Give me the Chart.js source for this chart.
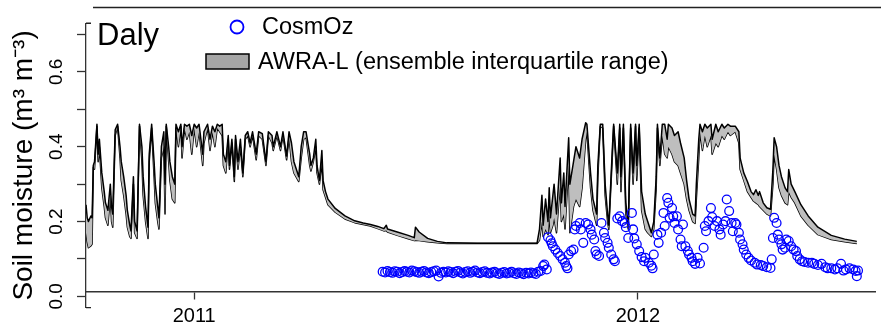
<!DOCTYPE html>
<html>
<head>
<meta charset="utf-8">
<script src="https://cdn.jsdelivr.net/npm/chart.js@4.4.1/dist/chart.umd.min.js"></script>
<style>
  html, body { margin: 0; padding: 0; background: #fff; }
  #chart { display: block; }
</style>
</head>
<body>
<canvas id="chart" width="881" height="326"></canvas>
<script>
// x values are days since 2011-01-01
const siteName = "Daly";
const yearTicks = [0, 365];
const yearLabels = ["2011", "2012"];

// AWRA-L ensemble interquartile range
const bandDays = [
  -89,-88,-87,-85,-84,-83,-82,-80,-79,-78,-76,-74,-73,-71,-69,-68,-67,-65,-63,-61,
  -60,-58,-56,-55,-53,-52,-50,-49,-47,-45,-43,-42,-40,-38,-37,-35,-33,-32,-30,-29,
  -27,-25,-24,-23,-21,-20,-18,-16,-15,-13,-11,-10,-8,-6,-4,-2,0,2,4,7,
  8,11,13,15,17,19,21,23,24,26,28,29,31,33,34,36,38,40,42,44,
  46,48,51,53,56,59,61,64,65,68,71,73,76,78,80,82,86,88,90,92,
  95,96,98,100,101,103,105,106,108,110,116,124,132,139,145,151,156,158,159,167,
  176,181,182,185,192,200,208,233,265,282,284,286,287,289,291,292,293,295,296,298,
  301,302,304,305,308,309,312,314,317,319,322,323,326,328,331,332,334,336,338,340,
  341,344,345,348,350,351,353,355,357,359,361,363,364,366,368,371,373,376,378,380,
  381,383,385,387,389,390,393,395,398,400,403,405,407,410,412,413,415,416,418,420,
  422,425,426,429,431,434,436,439,441,445,448,449,452,455,458,460,462,464,465,468,
  471,474,476,477,479,481,483,486,488,489,491,494,499,505,513,524,535,545
];
const bandUpper = [
  0.245,0.21,0.20,0.215,0.21,0.35,0.36,0.46,0.38,0.42,0.33,0.28,0.25,0.23,0.30,0.24,0.22,0.445,0.46,0.40,
  0.36,0.32,0.27,0.23,0.19,0.175,0.32,0.20,0.175,0.46,0.40,0.32,0.24,0.185,0.38,0.46,0.36,0.30,0.24,0.21,
  0.40,0.44,0.30,0.46,0.40,0.36,0.32,0.30,0.46,0.44,0.46,0.40,0.46,0.455,0.46,0.43,0.46,0.45,0.46,0.38,
  0.44,0.46,0.42,0.455,0.44,0.46,0.455,0.46,0.38,0.36,0.43,0.35,0.42,0.32,0.43,0.36,0.42,0.33,0.43,0.44,
  0.41,0.44,0.38,0.44,0.435,0.36,0.44,0.43,0.40,0.44,0.40,0.44,0.375,0.44,0.41,0.36,0.32,0.40,0.44,0.44,
  0.38,0.35,0.37,0.42,0.35,0.31,0.39,0.31,0.28,0.26,0.235,0.215,0.202,0.196,0.192,0.187,0.181,0.19,0.18,0.172,
  0.163,0.157,0.185,0.172,0.155,0.147,0.143,0.142,0.142,0.142,0.18,0.27,0.19,0.26,0.20,0.29,0.21,0.27,0.30,0.22,
  0.37,0.25,0.33,0.24,0.424,0.30,0.36,0.40,0.37,0.42,0.464,0.46,0.33,0.26,0.22,0.35,0.46,0.46,0.30,0.22,
  0.19,0.40,0.46,0.33,0.46,0.32,0.46,0.25,0.19,0.46,0.33,0.46,0.35,0.46,0.28,0.22,0.20,0.17,0.20,0.32,
  0.46,0.37,0.46,0.46,0.42,0.46,0.45,0.43,0.44,0.41,0.37,0.31,0.26,0.22,0.215,0.30,0.42,0.46,0.44,0.46,
  0.45,0.46,0.42,0.46,0.44,0.46,0.45,0.46,0.455,0.455,0.44,0.37,0.33,0.307,0.28,0.272,0.285,0.27,0.28,0.25,
  0.237,0.233,0.34,0.424,0.40,0.35,0.32,0.29,0.28,0.339,0.30,0.28,0.245,0.215,0.185,0.163,0.153,0.147
];
const bandLower = [
  0.17,0.145,0.13,0.135,0.14,0.345,0.34,0.455,0.36,0.40,0.29,0.24,0.21,0.19,0.27,0.20,0.185,0.43,0.455,0.37,
  0.31,0.27,0.22,0.185,0.16,0.155,0.30,0.17,0.155,0.455,0.36,0.27,0.20,0.155,0.36,0.45,0.32,0.25,0.20,0.18,
  0.37,0.40,0.22,0.455,0.36,0.31,0.26,0.25,0.45,0.40,0.455,0.37,0.45,0.42,0.44,0.38,0.45,0.40,0.44,0.35,
  0.41,0.45,0.39,0.44,0.40,0.45,0.44,0.43,0.35,0.33,0.42,0.34,0.41,0.307,0.42,0.34,0.40,0.32,0.42,0.43,
  0.40,0.43,0.365,0.43,0.42,0.35,0.43,0.41,0.39,0.43,0.39,0.43,0.365,0.425,0.36,0.33,0.307,0.37,0.42,0.425,
  0.35,0.335,0.36,0.40,0.33,0.30,0.36,0.285,0.265,0.245,0.225,0.207,0.197,0.192,0.188,0.181,0.175,0.176,0.172,0.163,
  0.154,0.149,0.15,0.149,0.146,0.143,0.141,0.141,0.141,0.141,0.15,0.20,0.16,0.18,0.165,0.22,0.17,0.19,0.21,0.17,
  0.30,0.20,0.22,0.18,0.35,0.17,0.24,0.26,0.24,0.29,0.42,0.44,0.29,0.23,0.19,0.32,0.455,0.45,0.27,0.20,
  0.179,0.38,0.455,0.30,0.45,0.28,0.45,0.22,0.18,0.45,0.30,0.455,0.31,0.45,0.23,0.18,0.17,0.16,0.18,0.29,
  0.45,0.35,0.43,0.38,0.37,0.40,0.38,0.36,0.35,0.33,0.30,0.26,0.23,0.20,0.195,0.26,0.37,0.44,0.39,0.43,
  0.40,0.43,0.38,0.41,0.40,0.43,0.42,0.44,0.43,0.44,0.41,0.34,0.31,0.28,0.265,0.255,0.25,0.245,0.24,0.23,
  0.22,0.215,0.30,0.379,0.34,0.29,0.27,0.25,0.245,0.28,0.265,0.25,0.215,0.19,0.165,0.152,0.146,0.141
];

// CosmOz probe
const cosmDays = [
  155,157,159,161,163,165,167,169,171,173,175,177,179,181,183,185,187,189,191,193,
  195,197,199,201,203,205,207,209,211,213,215,217,219,221,223,225,227,229,231,233,
  235,237,239,241,243,245,247,249,251,253,255,257,259,261,263,265,267,269,271,273,
  275,277,279,281,283,285,287,288,290,291,293,294,295,297,299,301,303,305,306,307,
  308,310,312,313,314,317,318,320,322,324,326,327,329,330,331,333,335,337,338,340,
  341,343,345,346,348,350,352,354,355,357,360,361,362,364,366,368,370,371,374,376,
  377,378,381,382,384,386,387,389,390,391,393,394,395,397,398,400,401,402,404,406,
  407,409,410,412,414,416,419,420,421,423,425,426,428,430,432,433,435,437,438,440,
  442,443,445,446,448,449,451,452,454,456,458,461,463,466,468,471,474,475,476,477,
  479,480,481,483,484,486,487,489,491,493,495,496,498,500,502,505,508,510,513,516,
  519,521,524,527,529,532,534,536,539,542,544,545,546
];
const cosmVals = [
  0.066,0.064,0.068,0.065,0.063,0.067,0.066,0.062,0.065,0.068,0.066,0.064,0.069,0.067,0.065,0.063,0.066,0.068,0.064,0.062,
  0.065,0.067,0.069,0.053,0.063,0.066,0.064,0.067,0.065,0.062,0.066,0.068,0.064,0.061,0.065,0.067,0.063,0.066,0.069,0.064,
  0.062,0.065,0.067,0.063,0.061,0.064,0.066,0.062,0.060,0.063,0.065,0.061,0.063,0.066,0.062,0.060,0.064,0.062,0.059,0.063,
  0.061,0.064,0.062,0.060,0.066,0.068,0.081,0.085,0.072,0.158,0.150,0.142,0.134,0.125,0.116,0.108,0.099,0.090,0.081,0.075,
  0.112,0.121,0.125,0.179,0.188,0.196,0.179,0.143,0.196,0.192,0.179,0.165,0.152,0.121,0.112,0.108,0.196,0.170,0.156,0.143,
  0.130,0.112,0.099,0.094,0.208,0.214,0.201,0.196,0.185,0.156,0.223,0.179,0.155,0.139,0.121,0.105,0.094,0.103,0.090,0.082,
  0.075,0.112,0.165,0.143,0.170,0.223,0.188,0.263,0.250,0.210,0.236,0.214,0.196,0.214,0.179,0.152,0.134,0.192,0.134,0.121,
  0.112,0.103,0.094,0.087,0.103,0.088,0.130,0.188,0.174,0.201,0.236,0.212,0.188,0.201,0.179,0.165,0.192,0.201,0.259,0.228,
  0.196,0.174,0.196,0.192,0.170,0.152,0.139,0.125,0.112,0.103,0.096,0.090,0.085,0.084,0.081,0.078,0.076,0.099,0.156,0.210,
  0.196,0.165,0.152,0.139,0.125,0.130,0.152,0.148,0.134,0.125,0.121,0.108,0.099,0.094,0.092,0.090,0.090,0.087,0.084,0.087,
  0.078,0.075,0.075,0.072,0.075,0.087,0.069,0.072,0.075,0.072,0.068,0.054,0.069
];

const fontFamily = '"Liberation Sans", Arial, Helvetica, sans-serif';

function toPoints(xs, ys) {
  return xs.map(function (x, i) { return { x: x, y: ys[i] }; });
}

const decorPlugin = {
  id: 'decor',
  afterDraw: function (chart) {
    const ctx = chart.ctx;
    const area = chart.chartArea;
    const sets = chart.data.datasets;
    ctx.save();

    // top rule and small hooks at the ends of the y axis
    ctx.strokeStyle = '#222';
    ctx.lineWidth = 1.3;
    ctx.beginPath();
    ctx.moveTo(93, 7.5);
    ctx.lineTo(chart.width, 7.5);
    ctx.moveTo(area.left, area.top);
    ctx.lineTo(area.left + 5, area.top);
    ctx.moveTo(area.left, area.bottom);
    ctx.lineTo(area.left + 5, area.bottom);
    ctx.stroke();

    // site name
    ctx.fillStyle = '#000';
    ctx.textBaseline = 'alphabetic';
    ctx.textAlign = 'left';
    ctx.font = '31px ' + fontFamily;
    ctx.fillText(siteName, 97, 45);

    // legend
    ctx.font = '23.5px ' + fontFamily;
    ctx.textBaseline = 'middle';
    ctx.strokeStyle = sets[0].borderColor;
    ctx.lineWidth = 1.8;
    ctx.beginPath();
    ctx.arc(237, 27, 6.5, 0, Math.PI * 2);
    ctx.stroke();
    ctx.fillText(sets[0].label, 262, 28);

    ctx.fillStyle = '#a6a6a6';
    ctx.fillRect(206, 54, 43, 15);
    ctx.strokeStyle = '#000';
    ctx.lineWidth = 1.5;
    ctx.strokeRect(206, 54, 43, 15);
    ctx.fillStyle = '#000';
    ctx.fillText(sets[1].label, 258, 63);
    ctx.restore();
  }
};

const ctx = document.getElementById('chart').getContext('2d');
const chart = new Chart(ctx, {
  type: 'line',
  data: {
    datasets: [{
      label: 'CosmOz',
      data: toPoints(cosmDays, cosmVals),
      showLine: false,
      pointStyle: 'circle',
      pointRadius: 4.4,
      pointBorderWidth: 1.3,
      borderColor: '#0000ff',
      pointBorderColor: '#0000ff',
      pointBackgroundColor: 'rgba(0,0,0,0)',
      backgroundColor: 'rgba(0,0,0,0)'
    }, {
      label: 'AWRA-L (ensemble interquartile range)',
      data: toPoints(bandDays, bandUpper),
      borderColor: '#000',
      borderWidth: 1.5,
      borderJoinStyle: 'round',
      backgroundColor: '#bebebe',
      fill: '+1',
      pointRadius: 0,
      tension: 0
    }, {
      label: 'lower quartile',
      data: toPoints(bandDays, bandLower),
      borderColor: '#000',
      borderWidth: 1.5,
      borderJoinStyle: 'round',
      fill: false,
      pointRadius: 0,
      tension: 0
    }]
  },
  options: {
    responsive: false,
    animation: false,
    layout: { padding: { top: 23.25, bottom: 17.75, left: 0, right: 0 } },
    scales: {
      x: {
        type: 'linear',
        min: -89,
        max: 560.2,
        position: { y: 0.012 },
        afterBuildTicks: function (scale) {
          scale.ticks = yearTicks.map(function (v) { return { value: v }; });
        },
        ticks: {
          autoSkip: false,
          maxRotation: 0,
          padding: 6,
          color: '#000',
          font: { family: fontFamily, size: 20 },
          callback: function (value) {
            const i = yearTicks.indexOf(value);
            return i >= 0 ? yearLabels[i] : '';
          }
        },
        grid: { drawOnChartArea: false, drawTicks: true, tickLength: 7, tickColor: '#333', tickWidth: 1.3 },
        border: { display: true, color: '#333', width: 1.5 }
      },
      y: {
        min: -0.03,
        max: 0.73,
        afterFit: function (scale) { scale.width = 86; },
        ticks: {
          stepSize: 0.1,
          includeBounds: false,
          minRotation: 90,
          maxRotation: 90,
          crossAlign: 'center',
          padding: 7,
          color: '#000',
          font: { family: fontFamily, size: 19 },
          callback: function (value) {
            const k = Math.round(value * 10);
            return k % 2 === 0 ? (k / 10).toFixed(1) : '';
          }
        },
        grid: { drawOnChartArea: false, drawTicks: true, tickLength: 9, tickColor: '#333', tickWidth: 1.3 },
        border: { display: true, color: '#333', width: 1.3 },
        title: {
          display: true,
          text: 'Soil moisture (m\u00b3 m\u207b\u00b3)',
          color: '#000',
          font: { family: fontFamily, size: 28 },
          padding: { top: 7, bottom: 0 }
        }
      }
    },
    plugins: {
      legend: { display: false },
      tooltip: { enabled: false }
    }
  },
  plugins: [decorPlugin]
});
</script>
</body>
</html>
